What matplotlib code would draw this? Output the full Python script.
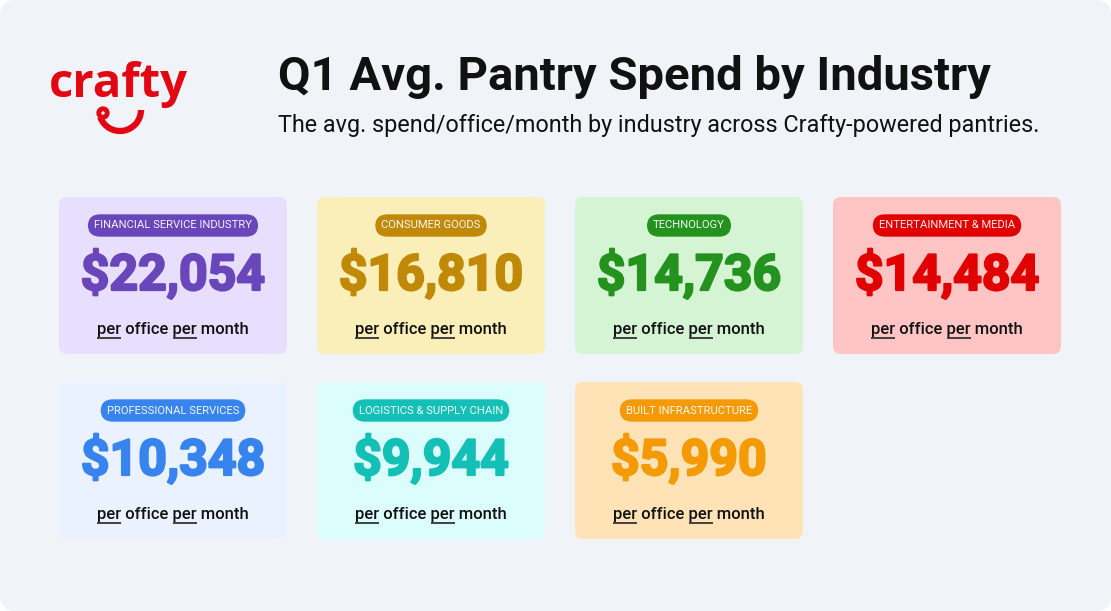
import matplotlib
matplotlib.use("Agg")
import matplotlib.pyplot as plt
import matplotlib.patheffects as pe
from matplotlib.patches import FancyBboxPatch, Arc, Circle

plt.rcParams['font.family'] = ['Roboto', 'DejaVu Sans']

title = "Q1 Avg. Pantry Spend by Industry"
subtitle = "The avg. spend/office/month by industry across Crafty-powered pantries."

industries = ["FINANCIAL SERVICE INDUSTRY", "CONSUMER GOODS", "TECHNOLOGY",
              "ENTERTAINMENT & MEDIA", "PROFESSIONAL SERVICES",
              "LOGISTICS & SUPPLY CHAIN", "BUILT INFRASTRUCTURE"]
spend = [22054, 16810, 14736, 14484, 10348, 9944, 5990]
unit_label = "per office per month"

card_bg = ["#E8DEFE", "#FAEFB9", "#D4F4D4", "#FFC4C4", "#EAF1FF", "#DBFDFB", "#FFE3B6"]
accent = ["#6946B9", "#C08A08", "#25921F", "#E00000", "#3884EE", "#14BFB6", "#F39A05"]

W, H = 1111, 611
fig = plt.figure(figsize=(W / 100, H / 100), dpi=100)
fig.patch.set_facecolor("white")
ax = fig.add_axes([0, 0, 1, 1])
ax.set_xlim(0, W)
ax.set_ylim(H, 0)
ax.axis("off")

# page background
ax.add_patch(FancyBboxPatch((0, 0), W, H, boxstyle="round,pad=0,rounding_size=16",
                            fc="#F0F3F7", ec="none"))

# logo
ax.text(118, 97, "crafty", fontsize=34, fontweight="bold", color="#E30613",
        ha="center", va="baseline", family=["Open Sans", "DejaVu Sans"])
ax.add_patch(Arc((120, 110), 42, 42, theta1=0, theta2=160, lw=4.5, color="#E30613"))
ax.add_patch(Circle((103, 113), 4.2, fc="none", ec="#E30613", lw=3.5))

# header
ax.text(278, 90, title, fontsize=34, fontweight="bold", color="#111111",
        ha="left", va="baseline")
ax.text(278, 132, subtitle, fontsize=16.8, color="#111111", ha="left", va="baseline")

# cards
card_w, card_h = 228, 157
x0s = [59, 317, 575, 833]
y0s = [197, 382]
fig.canvas.draw()
renderer = fig.canvas.get_renderer()


def text_width(s, **kw):
    t = ax.text(0, 0, s, **kw)
    w = t.get_window_extent(renderer).width
    t.remove()
    return w


per_kw = dict(fontsize=12, fontweight="medium", color="#111111")

for i, (name, val) in enumerate(zip(industries, spend)):
    cx = x0s[i % 4]
    cy = y0s[i // 4]
    mid = cx + card_w / 2
    ax.add_patch(FancyBboxPatch((cx, cy), card_w, card_h,
                                boxstyle="round,pad=0,rounding_size=8",
                                fc=card_bg[i], ec="none"))
    ax.text(mid, cy + 31.5, name, fontsize=8.1, color="white", alpha=0.92,
            ha="center", va="baseline",
            bbox=dict(boxstyle="round,pad=0.55,rounding_size=1.1",
                      fc=accent[i], ec="none"))
    num = ax.text(mid, cy + 93, "${:,}".format(val), fontsize=36, fontweight="bold",
                  color=accent[i], ha="center", va="baseline")
    num.set_path_effects([pe.withStroke(linewidth=1.6, foreground=accent[i])])
    # unit line with underlined "per"
    full = text_width(unit_label, **per_kw)
    left = mid - full / 2
    ax.text(left, cy + 137, unit_label, ha="left", va="baseline", **per_kw)
    for start in ["", "per office "]:
        s = text_width(start, **per_kw) if start else 0
        e = text_width(start + "per", **per_kw)
        ax.plot([left + s, left + e], [cy + 140.5, cy + 140.5], color="#333333",
                lw=1.3, solid_capstyle="butt")

fig.savefig("out.png", dpi=100, facecolor="white")
